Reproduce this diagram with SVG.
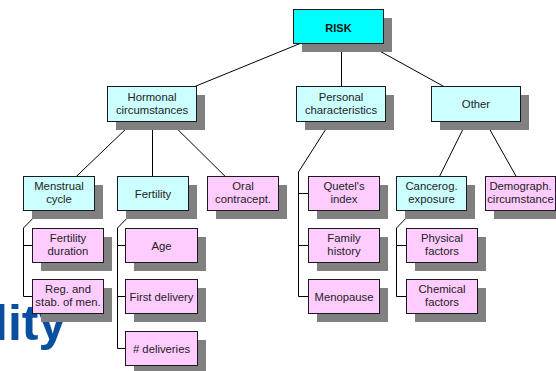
<svg xmlns="http://www.w3.org/2000/svg" width="556" height="371" viewBox="0 0 556 371">
<style>
.sh{fill:#808080}
.bx{stroke:#1a1a1a;stroke-width:1}
.top{fill:#00ffff}
.cy{fill:#ccffff}
.pk{fill:#ffccff}
text{font-family:"Liberation Sans",Arial,sans-serif;font-size:11.3px;fill:#222;text-anchor:middle}
.bold{font-weight:bold;font-size:11px;fill:#111}
#connectors line,#connectors path{stroke:#000;stroke-width:1;fill:none}
</style>
<rect width="556" height="371" fill="#fff"/>
<text x="-6" y="340" style="font-size:50px;font-weight:bold;fill:#0a4f9f;text-anchor:start">lity</text>
<g id="connectors">
<line x1="338" y1="28" x2="152" y2="104"/>
<line x1="341.5" y1="43" x2="341.5" y2="86"/>
<line x1="338" y1="28" x2="475.5" y2="104"/>
<line x1="152" y1="104" x2="58.5" y2="193.5"/>
<line x1="152.5" y1="122" x2="152.5" y2="176"/>
<line x1="152" y1="104" x2="242.5" y2="193.5"/>
<line x1="475.5" y1="104" x2="431" y2="193.5"/>
<line x1="475.5" y1="104" x2="526" y2="194"/>
<path d="M40,211 L23.5,228 V296.5 H32.5 M23.5,245.5 H32.5"/>
<path d="M134,211 L117.5,228 V348.5 H125.5 M117.5,245.5 H125.5 M117.5,296.5 H125.5"/>
<path d="M331,121 L298.5,172 V296.5 H308.5 M298.5,193.5 H308.5 M298.5,245.5 H308.5"/>
<path d="M413,211 L396.5,228 V296.5 H406.5 M396.5,245.5 H406.5"/>
</g>
<g id="risk"><rect class="sh" x="302" y="18" width="90" height="34"/><rect class="bx top" x="293.5" y="9.5" width="90" height="34"/><text class="bold" x="338.5" y="32">RISK</text></g>
<g id="hormonal"><rect class="sh" x="116" y="95" width="89" height="35"/><rect class="bx cy" x="107.5" y="86.5" width="89" height="35"/><text x="152" y="101">Hormonal</text><text x="152" y="114">circumstances</text></g>
<g id="personal"><rect class="sh" x="305" y="95" width="89" height="35"/><rect class="bx cy" x="296.5" y="86.5" width="89" height="35"/><text x="341" y="100.5">Personal</text><text x="341" y="113.5">characteristics</text></g>
<g id="other"><rect class="sh" x="440" y="95" width="89" height="35"/><rect class="bx cy" x="431.5" y="86.5" width="89" height="35"/><text x="476" y="108">Other</text></g>
<g id="menstrual"><rect class="sh" x="32" y="185" width="71" height="34"/><rect class="bx cy" x="23.5" y="176.5" width="71" height="34"/><text x="59" y="190">Menstrual</text><text x="59" y="203">cycle</text></g>
<g id="fertility"><rect class="sh" x="126" y="185" width="71" height="34"/><rect class="bx cy" x="117.5" y="176.5" width="71" height="34"/><text x="153" y="197.5">Fertility</text></g>
<g id="oral"><rect class="sh" x="216" y="185" width="71" height="34"/><rect class="bx pk" x="207.5" y="176.5" width="71" height="34"/><text x="243" y="190">Oral</text><text x="243" y="203">contracept.</text></g>
<g id="quetel"><rect class="sh" x="317" y="185" width="71" height="34"/><rect class="bx pk" x="308.5" y="176.5" width="71" height="34"/><text x="344" y="190">Quetel's</text><text x="344" y="203">index</text></g>
<g id="cancerog"><rect class="sh" x="405" y="185" width="70" height="34"/><rect class="bx cy" x="396.5" y="176.5" width="70" height="34"/><text x="431.5" y="190">Cancerog.</text><text x="431.5" y="203">exposure</text></g>
<g id="demograph"><rect class="sh" x="494" y="185" width="70" height="34"/><rect class="bx pk" x="485.5" y="176.5" width="70" height="34"/><text x="520.5" y="190">Demograph.</text><text x="520.5" y="203">circumstance</text></g>
<g id="fertility-duration"><rect class="sh" x="41" y="237" width="71" height="34"/><rect class="bx pk" x="32.5" y="228.5" width="71" height="34"/><text x="68" y="242">Fertility</text><text x="68" y="255">duration</text></g>
<g id="reg-stab"><rect class="sh" x="41" y="288" width="71" height="34"/><rect class="bx pk" x="32.5" y="279.5" width="71" height="34"/><text x="68" y="293">Reg. and</text><text x="68" y="306">stab. of men.</text></g>
<g id="age"><rect class="sh" x="134" y="237" width="72" height="34"/><rect class="bx pk" x="125.5" y="228.5" width="72" height="34"/><text x="161.5" y="249.5">Age</text></g>
<g id="first-delivery"><rect class="sh" x="134" y="288" width="72" height="34"/><rect class="bx pk" x="125.5" y="279.5" width="72" height="34"/><text x="161.5" y="300.5">First delivery</text></g>
<g id="deliveries"><rect class="sh" x="134" y="340" width="72" height="34"/><rect class="bx pk" x="125.5" y="331.5" width="72" height="34"/><text x="161.5" y="352.5"># deliveries</text></g>
<g id="family-history"><rect class="sh" x="317" y="237" width="71" height="34"/><rect class="bx pk" x="308.5" y="228.5" width="71" height="34"/><text x="344" y="242">Family</text><text x="344" y="255">history</text></g>
<g id="menopause"><rect class="sh" x="317" y="288" width="71" height="34"/><rect class="bx pk" x="308.5" y="279.5" width="71" height="34"/><text x="344" y="300.5">Menopause</text></g>
<g id="physical"><rect class="sh" x="415" y="237" width="71" height="34"/><rect class="bx pk" x="406.5" y="228.5" width="71" height="34"/><text x="442" y="242">Physical</text><text x="442" y="255">factors</text></g>
<g id="chemical"><rect class="sh" x="415" y="288" width="71" height="34"/><rect class="bx pk" x="406.5" y="279.5" width="71" height="34"/><text x="442" y="293">Chemical</text><text x="442" y="306">factors</text></g>
</svg>
